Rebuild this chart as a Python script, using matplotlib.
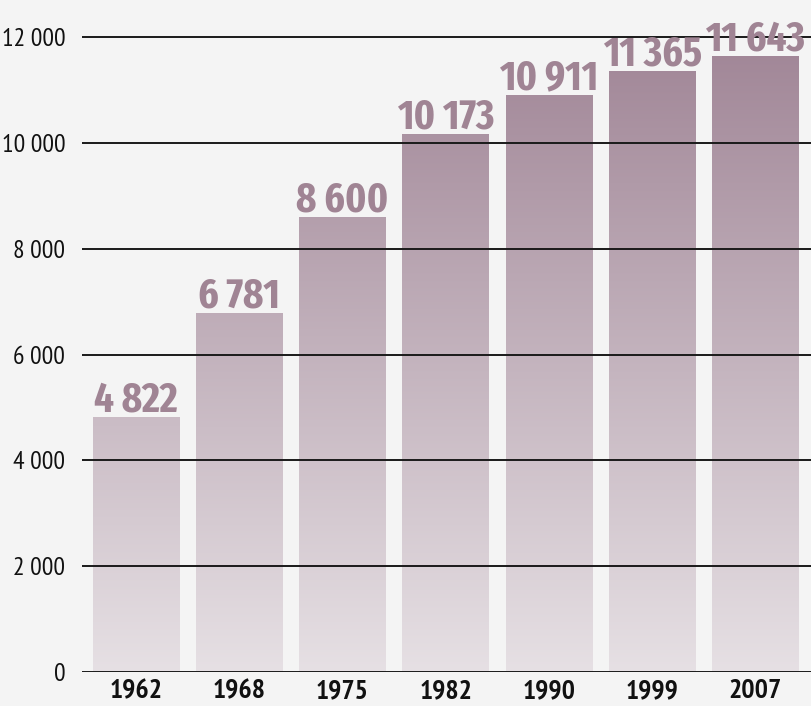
import matplotlib.pyplot as plt
import numpy as np
from matplotlib.colors import LinearSegmentedColormap
from matplotlib import font_manager

years = ['1962', '1968', '1975', '1982', '1990', '1999', '2007']
values = [4822, 6781, 8600, 10173, 10911, 11365, 11643]
yticks = [0, 2000, 4000, 6000, 8000, 10000, 12000]

names = {f.name for f in font_manager.fontManager.ttflist}

def pick(cands):
    for c in cands:
        if c in names:
            return c
    return 'DejaVu Sans'

tick_font = pick(['PT Sans Narrow', 'Fira Sans Condensed', 'Roboto Condensed',
                  'Archivo Narrow', 'Saira SemiCondensed'])
val_font = pick(['Fira Sans Extra Condensed', 'Roboto Condensed', 'Barlow Condensed',
                 'PT Sans Narrow', 'Saira ExtraCondensed'])

bg = '#f4f4f4'
cmap = LinearSegmentedColormap.from_list('bars', ['#e6e0e4', '#a08596'])

fig = plt.figure(figsize=(8.11, 7.06), dpi=100, facecolor=bg)
ax = fig.add_axes([0.101, 0.048, 0.899, 0.952], facecolor=bg)

x = np.arange(len(years))
bars = ax.bar(x, values, width=0.835, color='none', edgecolor='none', zorder=2)

grad = np.linspace(0, 1, 256).reshape(-1, 1)
for b in bars:
    im = ax.imshow(grad, cmap=cmap, origin='lower', aspect='auto',
                   extent=(-0.6, 6.6, 0, 12000), zorder=2)
    im.set_clip_path(b)

labels = []
for xi, v in zip(x, values):
    t = ax.annotate(f'{v:,}'.replace(',', ' '), (xi, v), xytext=(0, 4),
                    textcoords='offset points', ha='center', va='baseline',
                    fontsize=29, fontweight='bold', family=val_font,
                    color='#a08494', zorder=4)
    labels.append(t)

for t in yticks:
    ax.axhline(t, color='#1a1a1a', lw=1.4, zorder=3)

ax.set_xlim(-0.523, 6.54)
ax.set_ylim(0, 12700)
ax.set_yticks(yticks)
ax.set_yticklabels([f'{t:,}'.replace(',', ' ') for t in yticks], family=tick_font, fontsize=18.5)
ax.set_xticks(x)
ax.set_xticklabels(years, family=tick_font, fontsize=20, fontweight='bold')
ax.tick_params(axis='both', length=0, colors='#111111')
ax.tick_params(axis='y', pad=12)
ax.tick_params(axis='x', pad=5)
for s in ax.spines.values():
    s.set_visible(False)

# fit value label size so "4 822" spans about 84 px like the reference
fig.canvas.draw()
r = fig.canvas.get_renderer()
w = labels[0].get_window_extent(r).width
size = 29 * 84 / w
for t in labels:
    t.set_fontsize(size)

fig.savefig('out.png', dpi=100, facecolor=bg)
